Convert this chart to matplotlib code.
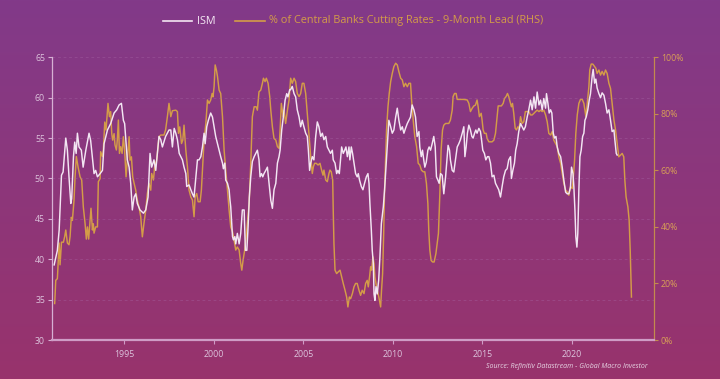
import numpy as np
import matplotlib
matplotlib.use('Agg')
import matplotlib.pyplot as plt
from matplotlib.colors import LinearSegmentedColormap
from matplotlib.lines import Line2D
from matplotlib.ticker import FuncFormatter

# ---------------- data ----------------
ism_year = [1991.07,1991.25,1991.35,1991.48,1991.57,1991.72,1991.81,1991.90,1992.00,1992.05,1992.15,1992.22,1992.30,1992.37,1992.46,1992.59,1992.69,1992.84,1993.02,1993.11,1993.30,1993.39,1993.49,1993.64,1993.77,1993.86,1994.05,1994.23,1994.42,1994.57,1994.70,1994.83,1994.94,1995.01,1995.16,1995.26,1995.35,1995.44,1995.54,1995.63,1995.72,1995.87,1996.06,1996.19,1996.32,1996.43,1996.52,1996.65,1996.75,1996.93,1997.03,1997.12,1997.30,1997.49,
            1997.59,1997.68,1997.78,1997.87,1997.96,1998.06,1998.15,1998.24,1998.33,1998.43,1998.48,1998.61,1998.71,1998.80,1998.89,1998.99,1999.08,1999.17,1999.27,1999.36,1999.45,1999.51,1999.60,1999.69,1999.82,1999.92,2000.01,2000.10,2000.20,2000.29,2000.38,2000.48,2000.53,2000.61,2000.66,2000.76,2000.85,2000.90,2000.94,2001.00,2001.04,2001.09,2001.17,2001.22,2001.31,2001.41,2001.50,2001.59,2001.69,2001.76,2001.84,2001.91,2001.98,2002.06,2002.15,2002.25,2002.34,2002.43,2002.52,2002.58,2002.66,2002.73,2002.80,2002.90,2002.99,2003.08,2003.18,2003.27,2003.36,2003.46,2003.55,2003.64,2003.70,2003.79,2003.88,2003.98,2004.07,2004.14,2004.24,
            2004.29,2004.38,2004.48,2004.57,2004.66,2004.76,2004.85,2004.94,2005.03,2005.13,2005.22,2005.28,2005.35,2005.41,2005.50,2005.59,2005.69,2005.78,2005.87,2005.97,2006.06,2006.15,2006.25,2006.34,2006.43,2006.52,2006.62,2006.67,2006.77,2006.86,2006.93,2007.01,2007.08,2007.14,2007.23,2007.31,2007.38,2007.46,2007.55,2007.60,2007.68,2007.75,2007.83,2007.92,2008.01,2008.07,2008.14,2008.24,2008.33,2008.42,2008.52,2008.61,2008.67,2008.72,2008.80,2008.85,2008.91,2008.95,2009.00,2009.06,2009.13,2009.21,2009.28,2009.36,2009.47,2009.54,2009.62,2009.69,2009.78,2009.88,2009.97,2010.06,2010.16,2010.25,2010.34,2010.44,2010.53,2010.62,2010.71,2010.81,2010.90,
            2010.99,2011.08,2011.18,2011.27,2011.36,2011.46,2011.51,2011.59,2011.66,2011.73,2011.79,2011.87,2011.96,2012.03,2012.11,2012.20,2012.29,2012.37,2012.44,2012.52,2012.59,2012.67,2012.76,2012.85,2012.95,2013.04,2013.09,2013.17,2013.22,2013.32,2013.41,2013.50,2013.60,2013.69,2013.78,2013.88,2013.97,2014.03,2014.10,2014.17,2014.25,2014.34,2014.42,2014.49,2014.57,2014.64,2014.71,2014.81,2014.90,2014.96,2015.03,2015.12,2015.20,2015.29,2015.37,2015.46,2015.55,2015.65,2015.74,2015.83,2015.92,2016.02,2016.11,2016.20,2016.30,2016.39,2016.48,2016.58,2016.63,2016.71,2016.80,2016.87,2016.95,2017.04,2017.14,2017.23,2017.32,2017.41,2017.51,2017.60,
            2017.70,2017.79,2017.89,2017.98,2018.07,2018.17,2018.26,2018.35,2018.44,2018.54,2018.59,2018.67,2018.74,2018.82,2018.89,2018.97,2019.04,2019.12,2019.19,2019.28,2019.38,2019.47,2019.56,2019.66,2019.75,2019.84,2019.93,2019.99,2020.07,2020.12,2020.18,2020.23,2020.29,2020.34,2020.40,2020.46,2020.53,2020.61,2020.68,2020.74,2020.81,2020.90,2020.98,2021.05,2021.15,2021.20,2021.28,2021.35,2021.42,2021.52,2021.61,2021.70,2021.80,2021.89,2021.98,2022.08,2022.17,2022.26,2022.36,2022.41,2022.49,2022.54]
ism_value = [39.3,41.1,43.6,50.4,50.8,55.0,53.5,50.2,46.9,47.5,52.7,54.5,53.1,55.6,53.9,53.5,51.4,53.5,55.6,54.7,50.6,51.0,50.2,50.6,51.0,54.3,56.0,56.8,58.1,58.5,59.1,59.3,57.2,56.8,52.3,51.4,49.4,46.1,47.7,48.1,46.9,46.1,45.7,46.1,47.7,53.1,51.4,52.3,51.0,55.2,54.8,53.9,55.2,56.0,
             56.0,53.9,56.2,55.6,54.8,53.1,52.7,52.3,51.4,50.6,49.0,49.2,48.6,48.1,47.7,50.2,52.3,52.3,52.7,53.9,55.6,54.3,56.4,57.2,58.1,57.6,56.4,55.2,54.3,53.5,52.7,51.9,51.2,51.9,49.8,49.4,48.6,47.3,46.5,44.4,42.8,42.4,42.8,41.9,43.2,41.9,43.2,46.1,46.1,41.1,41.1,44.0,47.7,50.2,52.1,52.7,53.1,53.5,52.3,50.2,50.6,50.2,50.6,51.0,51.4,49.4,47.3,46.3,48.6,49.4,51.9,52.7,53.5,56.0,57.6,59.7,60.5,60.1,61.0,
             61.0,61.4,60.5,60.1,58.5,57.6,56.4,57.2,56.4,55.6,55.2,53.5,51.0,51.9,52.7,52.3,55.2,57.0,56.4,55.2,55.6,54.8,55.2,53.9,53.5,53.1,53.5,52.3,51.9,50.6,51.0,50.6,52.3,53.9,53.1,53.5,53.9,52.7,53.9,52.3,53.9,53.1,51.9,50.6,50.2,50.6,49.8,49.0,48.6,49.4,50.2,50.6,49.4,46.9,43.6,41.1,39.5,35.7,34.9,36.6,35.7,37.4,40.3,44.4,46.5,48.6,51.4,53.9,57.2,56.4,55.6,56.0,57.6,58.7,57.2,56.0,56.4,55.6,56.2,56.8,57.2,
             57.6,59.1,58.5,57.6,55.2,55.8,53.9,52.7,53.5,52.3,51.4,52.0,53.5,53.9,53.5,54.3,55.2,53.9,50.2,49.8,49.4,50.6,50.4,48.1,50.2,52.7,54.1,53.5,52.3,51.0,50.8,52.3,53.9,54.3,54.8,55.6,56.4,52.7,53.9,55.6,56.6,56.0,55.2,55.0,55.6,56.0,55.6,56.2,55.8,54.8,53.5,53.1,52.3,52.7,52.7,51.9,50.2,50.4,49.4,49.0,48.6,47.7,49.0,50.2,51.0,51.2,52.3,52.7,50.0,51.0,51.9,53.5,54.3,55.8,56.8,56.4,56.0,56.4,57.6,58.5,
             59.7,58.5,60.1,58.7,60.7,59.1,59.7,58.5,59.9,58.7,60.5,59.3,58.1,58.5,58.1,55.6,55.0,55.2,53.9,53.1,52.7,51.4,49.8,48.3,48.1,48.1,48.9,51.4,50.6,49.0,46.1,42.8,41.5,43.2,48.6,52.7,53.5,55.2,55.6,57.2,57.6,58.5,59.7,60.5,62.8,63.5,61.8,62.3,61.2,60.5,60.0,60.6,60.3,59.3,58.1,58.5,57.2,55.8,56.0,54.8,53.1,52.9]

cb_year = [1991.10,1991.16,1991.25,1991.35,1991.40,1991.48,1991.59,1991.66,1991.72,1991.81,1991.90,1991.96,1992.03,1992.09,1992.18,1992.24,1992.31,1992.41,1992.52,1992.61,1992.70,1992.80,1992.87,1992.93,1993.00,1993.08,1993.13,1993.21,1993.26,1993.30,1993.39,1993.49,1993.54,1993.64,1993.67,1993.77,1993.82,1993.90,1993.97,1994.08,1994.16,1994.23,1994.29,1994.34,1994.42,1994.47,1994.55,1994.60,1994.66,1994.72,1994.79,1994.87,1994.94,1995.01,1995.09,1995.16,1995.26,1995.31,1995.39,1995.46,1995.54,1995.63,1995.72,1995.81,1995.91,1996.00,1996.09,1996.19,1996.28,1996.37,1996.47,1996.52,1996.62,1996.69,1996.80,1996.93,1997.03,1997.21,1997.30,1997.40,1997.49,
           1997.59,1997.68,1997.87,1997.96,1998.02,1998.09,1998.19,1998.26,1998.33,1998.43,1998.52,1998.61,1998.71,1998.80,1998.89,1998.95,1999.04,1999.12,1999.23,1999.30,1999.38,1999.45,1999.55,1999.64,1999.73,1999.82,1999.90,1999.95,2000.01,2000.07,2000.14,2000.20,2000.29,2000.38,2000.48,2000.57,2000.66,2000.76,2000.85,2000.94,2001.04,2001.13,2001.22,2001.31,2001.41,2001.50,2001.56,2001.63,2001.72,2001.80,2001.87,2001.97,2002.06,2002.15,2002.25,2002.36,2002.43,2002.52,2002.62,2002.71,2002.77,2002.86,2002.93,2003.03,2003.12,2003.18,2003.27,2003.36,2003.46,2003.55,2003.64,2003.70,2003.77,2003.87,2003.92,2004.01,2004.11,2004.20,
           2004.29,2004.38,2004.48,2004.57,2004.66,2004.76,2004.85,2004.94,2005.03,2005.13,2005.22,2005.31,2005.41,2005.50,2005.56,2005.63,2005.72,2005.82,2005.93,2006.02,2006.10,2006.15,2006.25,2006.34,2006.43,2006.49,2006.56,2006.64,2006.67,2006.71,2006.77,2006.86,2006.95,2007.05,2007.14,2007.23,2007.33,2007.42,2007.49,2007.57,2007.64,2007.74,2007.83,2007.92,2008.01,2008.11,2008.20,2008.29,2008.39,2008.48,2008.57,2008.63,2008.70,2008.76,2008.82,2008.89,2008.95,2009.00,2009.06,2009.13,2009.22,2009.32,2009.37,2009.43,2009.49,2009.54,2009.60,2009.65,2009.73,2009.80,2009.88,2009.97,2010.06,2010.16,2010.25,2010.34,2010.44,2010.53,2010.62,2010.71,2010.81,2010.90,
           2010.99,2011.05,2011.14,2011.23,2011.33,2011.42,2011.51,2011.60,2011.70,2011.79,2011.88,2011.96,2012.01,2012.07,2012.14,2012.22,2012.31,2012.41,2012.48,2012.55,2012.63,2012.70,2012.78,2012.85,2012.95,2013.13,2013.22,2013.32,2013.37,2013.45,2013.54,2013.60,2013.97,2014.16,2014.25,2014.34,2014.44,2014.53,2014.62,2014.71,2014.77,2014.84,2014.94,2014.99,2015.05,2015.12,2015.22,2015.27,2015.37,2015.55,2015.65,2015.74,2015.83,2015.89,2016.07,2016.17,2016.24,2016.33,2016.41,2016.48,2016.58,2016.63,2016.69,2016.76,2016.84,2016.91,2016.99,2017.06,2017.14,2017.23,2017.32,2017.41,2017.60,
           2017.70,2017.79,2017.89,2017.98,2018.07,2018.17,2018.26,2018.35,2018.44,2018.54,2018.63,2018.72,2018.82,2018.91,2019.00,2019.10,2019.19,2019.28,2019.38,2019.47,2019.56,2019.66,2019.75,2019.84,2019.93,2020.03,2020.08,2020.16,2020.23,2020.31,2020.40,2020.49,2020.59,2020.68,2020.74,2020.79,2020.87,2020.96,2021.01,2021.09,2021.18,2021.28,2021.35,2021.42,2021.52,2021.61,2021.70,2021.80,2021.89,2021.98,2022.08,2022.17,2022.26,2022.36,2022.45,2022.54,2022.63,2022.73,2022.82,2022.91,2022.97,2023.04,2023.14,2023.21,2023.27,2023.31,2023.34]
cb_pct = [12.9,21.1,21.7,34.3,26.6,34.6,34.6,36.6,38.9,34.3,33.7,36.6,43.4,42.3,49.4,57.7,64.9,61.1,57.7,56.6,47.1,41.1,35.7,40.0,35.7,42.3,46.6,38.9,41.1,37.8,40.0,40.0,56.0,57.1,66.6,64.9,67.2,77.1,74.3,83.7,79.0,80.8,73.0,70.7,73.0,69.0,67.2,70.7,77.8,66.0,68.4,66.0,71.9,67.2,57.7,63.6,71.9,63.6,64.8,57.7,55.4,53.0,49.5,47.1,43.6,36.5,41.2,45.9,51.8,55.4,53.0,58.9,56.6,61.3,63.6,71.9,72.5,72.5,74.3,79.0,83.7,
          79.0,81.1,81.3,80.8,73.1,75.4,69.5,70.7,76.0,67.2,61.3,53.0,50.6,49.5,43.6,50.6,51.8,48.9,48.9,53.0,62.5,70.7,76.6,84.9,83.7,84.9,87.2,86.0,89.6,97.3,95.5,93.2,88.4,87.2,79.0,67.2,60.1,53.0,45.9,40.0,38.3,35.3,31.8,32.9,31.8,27.0,24.7,28.2,31.8,36.5,41.2,48.3,62.5,79.0,82.5,82.5,81.3,87.8,88.4,90.8,92.6,91.4,92.6,90.8,86.1,81.3,75.4,71.3,70.7,68.4,67.8,74.3,83.7,79.0,81.3,76.6,81.3,84.9,
          92.6,90.8,92.6,91.4,87.2,86.1,87.2,90.8,90.8,87.2,80.2,73.1,64.8,58.9,61.3,62.5,62.5,61.9,62.5,60.1,58.3,60.1,56.6,56.0,58.9,60.1,59.5,56.6,45.9,34.1,24.7,23.5,24.1,24.7,22.3,20.0,17.6,15.2,11.7,15.2,14.6,16.4,18.8,20.0,20.0,17.6,15.8,17.6,16.4,20.0,21.1,18.8,22.3,25.9,24.7,29.4,27.0,22.3,20.0,17.6,15.2,11.7,17.6,23.5,37.7,53.0,64.8,74.3,82.5,87.2,91.4,94.3,96.7,97.9,97.3,94.9,92.6,92.0,89.6,90.8,89.6,90.8,
          90.8,84.9,77.8,71.9,68.4,62.5,61.9,60.1,59.5,59.5,55.4,48.3,38.8,31.8,28.2,27.6,27.6,30.6,34.1,37.7,51.8,67.2,74.3,76.0,76.6,76.6,77.8,81.3,86.1,87.2,87.2,85.1,85.1,84.9,83.7,80.8,82.0,82.8,83.1,84.9,82.5,79.0,80.2,77.8,74.3,73.1,73.1,71.3,70.1,70.1,70.7,73.1,79.0,82.8,82.8,83.7,85.4,86.1,87.2,86.1,83.7,82.5,83.7,80.2,74.9,74.3,75.4,74.9,79.0,76.6,77.2,80.8,80.8,
          79.6,79.6,80.2,80.8,81.3,80.8,81.3,80.8,81.3,79.6,77.2,73.1,72.5,73.7,70.7,69.5,68.4,64.8,62.5,58.9,55.4,53.0,52.4,51.2,54.2,53.6,56.6,63.6,73.1,79.6,83.7,85.1,85.1,83.7,81.3,79.0,83.7,89.6,95.5,97.6,97.6,96.7,96.1,94.3,95.5,93.7,95.0,93.7,95.5,94.3,90.8,89.0,83.7,77.8,74.3,69.5,64.8,65.4,66.0,64.8,56.6,50.6,47.1,42.4,31.8,22.3,15.2]

x_ticks = [1995, 2000, 2005, 2010, 2015, 2020]
left_ticks = [30, 35, 40, 45, 50, 55, 60, 65]
right_ticks = [0, 20, 40, 60, 80, 100]

ism_label = 'ISM'
cb_label = '% of Central Banks Cutting Rates - 9-Month Lead (RHS)'
source_text = 'Source: Refinitiv Datastream - Global Macro Investor'

# ---------------- styling ----------------
W, H = 720, 379
ISM_C = '#f3e6f3'
CB_C = '#d49c48'
LEFT_TXT = '#dcc3dc'
RIGHT_TXT = '#d89e57'
FONT = 'Open Sans'

fig = plt.figure(figsize=(W / 100, H / 100), dpi=100)

# gradient background
bg = fig.add_axes([0, 0, 1, 1], zorder=-10)
grad = np.linspace(0, 1, 256).reshape(-1, 1)
cmap = LinearSegmentedColormap.from_list('bg', ['#823a89', '#98336c'])
bg.imshow(grad, aspect='auto', cmap=cmap, extent=[0, 1, 0, 1], origin='upper')
bg.axis('off')

left, right, top, bottom = 52, 654, 57.3, 340
ax = fig.add_axes([left / W, 1 - bottom / H, (right - left) / W, (bottom - top) / H])
ax2 = ax.twinx()

ax2.plot(cb_year, cb_pct, color=CB_C, lw=1.05, solid_joinstyle='round')
ax.plot(ism_year, ism_value, color=ISM_C, lw=1.05, solid_joinstyle='round')
ax.set_zorder(ax2.get_zorder() + 1)
ax.patch.set_visible(False)
ax2.patch.set_visible(False)

ax.set_xlim(1990.95, 2024.6)
ax.set_ylim(30, 65)
ax2.set_ylim(0, 100)
ax.set_xticks(x_ticks)
ax.set_yticks(left_ticks)
ax2.set_yticks(right_ticks)
ax2.yaxis.set_major_formatter(FuncFormatter(lambda v, p: f'{v:.0f}%'))

ax.grid(axis='y', color='#a868a8', lw=0.5, ls=(0, (4, 4)), alpha=0.5)
ax.set_axisbelow(True)

for sp in ['top', 'right']:
    ax.spines[sp].set_visible(False)
for sp in ['top', 'left', 'bottom']:
    ax2.spines[sp].set_visible(False)
ax.spines['left'].set_color('#d6b0d4')
ax.spines['left'].set_linewidth(0.9)
ax.spines['bottom'].set_color('#cf9cc6')
ax.spines['bottom'].set_linewidth(1.6)
ax2.spines['right'].set_color('#c48a4e')
ax2.spines['right'].set_linewidth(0.9)

ax.tick_params(axis='x', colors='#cf9cc6', labelcolor=LEFT_TXT, length=3, width=0.8,
               labelsize=6.3, pad=4)
ax.tick_params(axis='y', colors='#d6b0d4', labelcolor=LEFT_TXT, length=3, width=0.8,
               labelsize=6.3, pad=2)
ax2.tick_params(axis='y', colors='#c48a4e', labelcolor=RIGHT_TXT, length=3, width=0.8,
                labelsize=6.3, pad=2)
for lab in ax.get_xticklabels() + ax.get_yticklabels() + ax2.get_yticklabels():
    lab.set_fontfamily(FONT)

# legend (manual, centred at top)
ly = 1 - 21 / H
fig.add_artist(Line2D([163 / W, 192 / W], [ly, ly], color=ISM_C, lw=1.2))
fig.text(197 / W, ly, ism_label, color=ISM_C, fontsize=7.8, family=FONT, va='center', ha='left')
fig.add_artist(Line2D([235 / W, 265 / W], [ly, ly], color=CB_C, lw=1.2))
fig.text(269 / W, ly, cb_label, color=CB_C, fontsize=7.8, family=FONT, va='center', ha='left')

fig.text(648 / W, 1 - 366 / H, source_text, color='#e6d3e3', fontsize=5, style='italic',
         family=FONT, ha='right', va='center')

fig.savefig('out.png', dpi=100)
